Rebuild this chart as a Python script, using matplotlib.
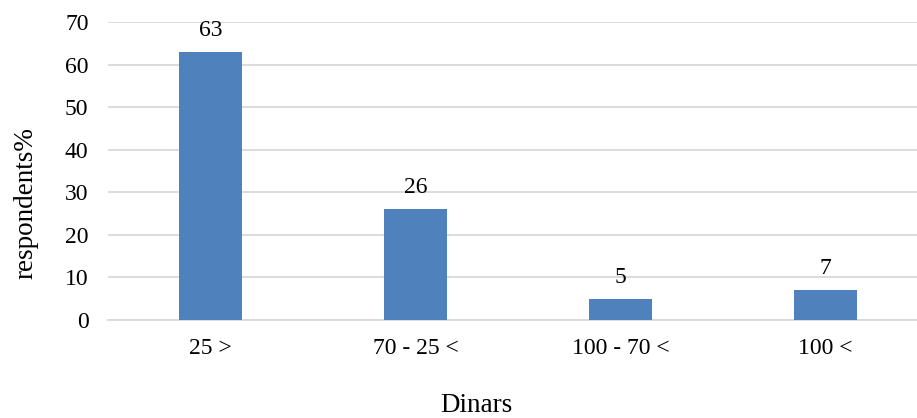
import matplotlib
matplotlib.use("Agg")
import matplotlib.pyplot as plt

categories = ["25 >", "70 - 25 <", "100 - 70 <", "100 <"]
values = [63, 26, 5, 7]
yticks = [0, 10, 20, 30, 40, 50, 60, 70]

plt.rcParams['font.family'] = ['Liberation Serif', 'DejaVu Serif']
FS = 17
TFS = 19.5

fig = plt.figure(figsize=(9.17, 4.18), dpi=100)
ax = fig.add_axes([108/917, 1-320/418, 820/917, 298/418])

x = range(len(categories))
bars = ax.bar(x, values, width=0.312, color="#4F81BD", zorder=3)
for xi, v in zip(x, values):
    ax.annotate(str(v), (xi, v), xytext=(0, 8), textcoords="offset points",
                ha="center", va="bottom", fontsize=FS)

ax.set_xlim(-0.5, len(categories)-0.5)
ax.set_ylim(0, 70)
ax.set_yticks(yticks)
ax.set_xticks(list(x))
ax.set_xticklabels(categories, fontsize=FS)
ax.tick_params(axis='y', labelsize=FS, length=0, pad=14)
ax.tick_params(axis='x', length=0, pad=13)
ax.grid(axis='y', color="#D9D9D9", linewidth=1.3, zorder=0)
for s in ["top", "right", "left"]:
    ax.spines[s].set_visible(False)
ax.spines["bottom"].set_color("#D9D9D9")
ax.spines["bottom"].set_linewidth(1.3)
fig.text(26/917, 1-203/418, "respondents%", fontsize=TFS, rotation=90,
         ha="center", va="center")
fig.text(476/917, 1-405/418, "Dinars", fontsize=TFS, ha="center", va="center")

fig.savefig("out.png", dpi=100)
